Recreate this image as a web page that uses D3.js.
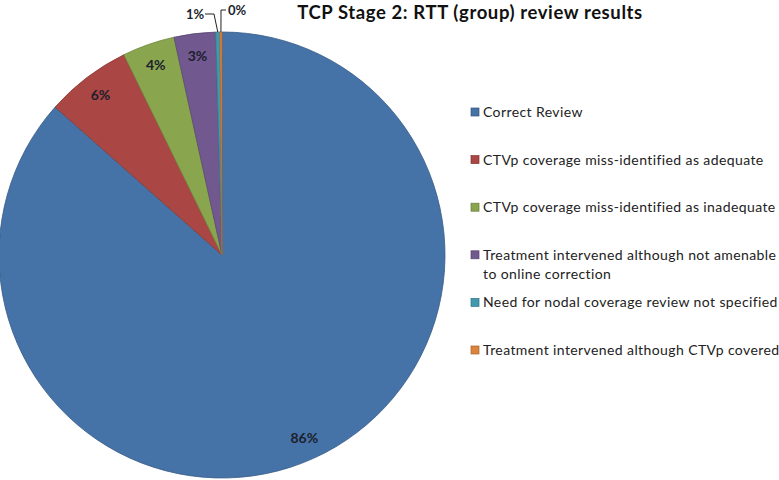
<!DOCTYPE html>
<html>
<head>
<meta charset="utf-8">
<script src="https://cdn.jsdelivr.net/npm/d3@7"></script>
<style>
  body { margin: 0; background: #fff; }
  svg { display: block; font-family: Lato, 'Noto Sans', sans-serif; }
</style>
</head>
<body>
<div id="app"></div>
<script>
const categories = [
  'Correct Review',
  'CTVp coverage miss-identified as adequate',
  'CTVp coverage miss-identified as inadequate',
  'Treatment intervened although not amenable|to online correction',
  'Need for nodal coverage review not specified',
  'Treatment intervened although CTVp covered'
]
const values = [86.5, 6.2, 3.8, 3.0, 0.3, 0.15]
const pctLabels = ['86%', '6%', '4%', '3%', '1%', '0%']
const colors = ['#4572a7', '#aa4643', '#89a54e', '#71588f', '#4198af', '#db843d']

const w = 779
const h = 480
const cx = 222
const cy = 255
const r = 223

const svg = d3.select('#app')
  .append('svg')
  .attr('width', w)
  .attr('height', h)

svg.append('text')
  .attr('x', 470)
  .attr('y', 19)
  .attr('text-anchor', 'middle')
  .style('font-size', '18.5px')
  .style('letter-spacing', '0.6px')
  .style('font-weight', 'bold')
  .style('fill', '#111')
  .text('TCP Stage 2: RTT (group) review results')

const pie = d3.pie().sort(null).value(d => d)
const arcs = pie(values)
const arc = d3.arc().innerRadius(0).outerRadius(r)
const labelArc = d3.arc().innerRadius(r * 0.9).outerRadius(r * 0.9)

const g = svg.append('g').attr('transform', `translate(${cx},${cy})`)

g.selectAll('path')
  .data(arcs)
  .enter()
  .append('path')
  .attr('d', arc)
  .attr('fill', (d, i) => colors[i])
  .attr('stroke', (d, i) => d3.color(colors[i]).darker(0.6))
  .attr('stroke-width', 0.8)

// labels inside the bigger slices
g.selectAll('text.inside')
  .data(arcs.slice(0, 4))
  .enter()
  .append('text')
  .attr('class', 'inside')
  .attr('transform', d => `translate(${labelArc.centroid(d)})`)
  .attr('text-anchor', 'middle')
  .attr('dy', '0.35em')
  .style('font-size', '14px')
  .style('font-weight', 'bold')
  .style('fill', '#1c1f2e')
  .text((d, i) => pctLabels[i])

// the two thin slices get labels outside with leader lines
const edge = d3.arc().innerRadius(r).outerRadius(r)
const smalls = [
  { i: 4, tx: 195, ty: 14, lx: 205, elbow: 214 },
  { i: 5, tx: 237, ty: 10, lx: 226, elbow: 221 }
]
smalls.forEach(s => {
  const p = edge.centroid(arcs[s.i])
  const px = p[0] + cx
  const py = p[1] + cy
  svg.append('polyline')
    .attr('points', [[s.lx, s.ty], [s.elbow, s.ty], [px, py]].map(q => q.join(',')).join(' '))
    .attr('fill', 'none')
    .attr('stroke', '#222')
    .attr('stroke-width', 1)
  svg.append('text')
    .attr('x', s.tx)
    .attr('y', s.ty)
    .attr('dy', '0.35em')
    .attr('text-anchor', 'middle')
    .style('font-size', '13px')
    .style('font-weight', 'bold')
    .style('fill', '#1c1f2e')
    .text(pctLabels[s.i])
})

// legend
const legendY = d3.scalePoint()
  .domain(d3.range(categories.length))
  .range([112, 350])

const legend = svg.append('g').attr('id', 'legend')
const items = legend.selectAll('g')
  .data(categories)
  .enter()
  .append('g')
  .attr('transform', (d, i) => `translate(471,${legendY(i)})`)

items.append('rect')
  .attr('x', 0)
  .attr('y', -4)
  .attr('width', 8)
  .attr('height', 8)
  .attr('fill', (d, i) => colors[i])
  .attr('stroke', (d, i) => d3.color(colors[i]).darker(0.8))
  .attr('stroke-width', 0.7)

items.append('text')
  .attr('x', 12)
  .attr('y', 0)
  .style('font-size', '14px')
  .style('letter-spacing', '0.4px')
  .style('fill', '#222')
  .selectAll('tspan')
  .data(d => d.split('|'))
  .enter()
  .append('tspan')
  .attr('x', 12)
  .attr('dy', (d, j) => j === 0 ? '0.35em' : '19px')
  .text(d => d)
</script>
</body>
</html>
